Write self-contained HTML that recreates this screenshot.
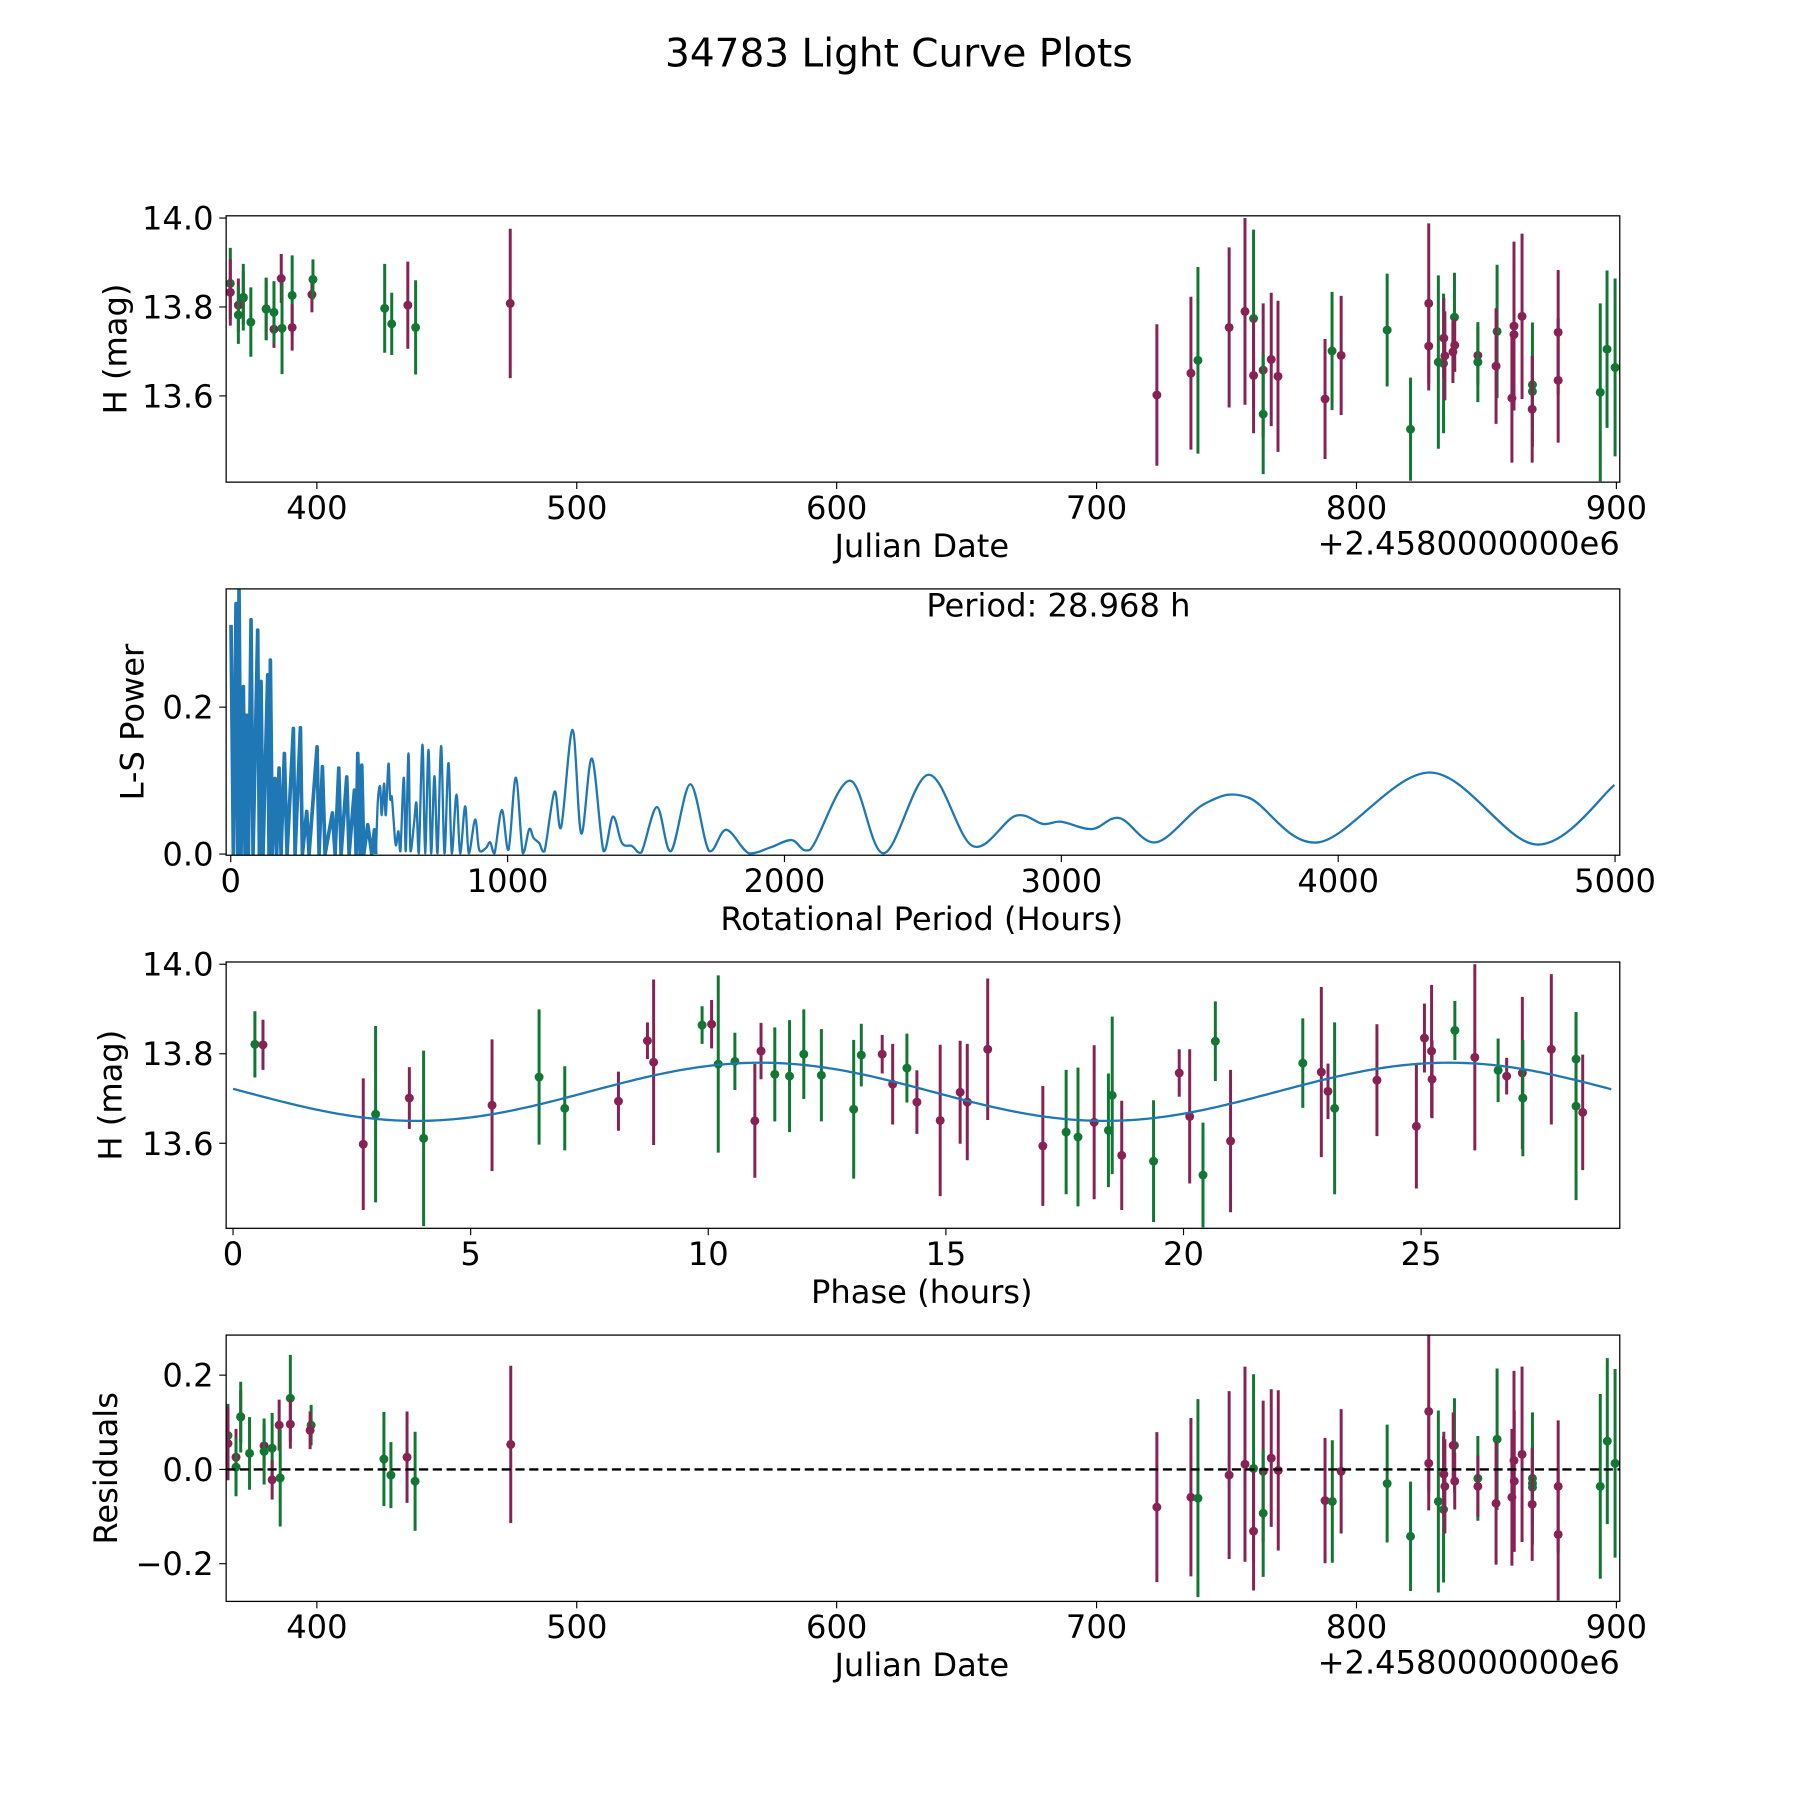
<!DOCTYPE html>
<html><head><meta charset="utf-8"><title>34783 Light Curve Plots</title>
<style>
html,body{margin:0;padding:0;background:#fff;}
svg{display:block;font-family:"DejaVu Sans","Liberation Sans",sans-serif;}
</style></head>
<body>
<svg id="fig" width="1800" height="1800" viewBox="0 0 1568 1568" xmlns="http://www.w3.org/2000/svg">
<rect x="0" y="0" width="1568" height="1568" fill="#fff"/>
<text x="783" y="58" font-size="34" text-anchor="middle">34783 Light Curve Plots</text>
</svg>
<script>
// ---------- Panel 1: light curve ----------
const lcDates = [366.7,366.7,369.8,369.8,371.7,371.7,374.6,380.5,380.5,383.5,383.5,386.3,386.6,390.5,390.5,398.1,398.5,426.1,428.8,435.0,438.0,474.4,
723.2,736.3,739.0,751.0,757.1,760.4,760.4,764.1,764.1,767.2,769.8,787.9,790.6,794.1,811.8,820.8,827.8,827.8,831.5,833.5,833.6,834.0,837.7,837.8,837.1,846.7,846.7,854.1,853.7,860.6,860.6,859.8,863.7,867.7,867.7,867.6,877.6,877.6,893.8,896.4,899.5];
const lcMags = [13.853,13.833,13.804,13.782,13.820,13.822,13.766,13.796,13.795,13.750,13.788,13.864,13.752,13.826,13.754,13.828,13.862,13.797,13.762,13.804,13.754,13.808,
13.602,13.651,13.680,13.754,13.790,13.774,13.646,13.658,13.559,13.682,13.644,13.593,13.701,13.691,13.748,13.525,13.808,13.712,13.676,13.673,13.730,13.690,13.777,13.714,13.699,13.691,13.676,13.745,13.667,13.757,13.738,13.595,13.779,13.625,13.610,13.570,13.743,13.635,13.608,13.705,13.664];
const lcErrs = [0.08,0.075,0.06,0.065,0.06,0.075,0.078,0.07,0.07,0.042,0.07,0.055,0.103,0.09,0.052,0.04,0.045,0.1,0.07,0.098,0.106,0.168,
0.159,0.172,0.21,0.18,0.21,0.2,0.13,0.15,0.135,0.15,0.17,0.135,0.133,0.134,0.127,0.116,0.18,0.1,0.195,0.157,0.09,0.1,0.1,0.06,0.07,0.065,0.09,0.15,0.13,0.19,0.15,0.145,0.186,0.14,0.08,0.12,0.14,0.14,0.2,0.177,0.2];
const lcBands = ["G","M","M","G","M","G","G","M","G","M","G","M","G","G","M","M","G","G","G","M","G","M",
"M","M","G","M","M","G","M","M","G","M","M","M","G","M","G","G","M","M","G","G","M","M","G","M","M","M","G","G","M","M","M","M","M","G","G","M","M","M","G","G","G"];

// ---------- Panel 2: periodogram ----------
const lsPeriods = [1.0,9.4,19.1,25.1,29.9,37.1,45.6,51.6,57.6,63.6,73.3,80.5,97.4,103.4,109.4,116.6,133.5,138.3,143.1,150.4,160.0,166.0,174.5,181.7,193.7,203.4,226.3,232.3,251.6,258.8,274.4,282.9,311.8,319.0,331.1,340.7,367.2,376.9,390.1,398.5,419.0,427.4,446.7,452.7,458.8,467.2,473.2,480.5,494.9,509.4,519.0,523.8,
531.1,539.5,545.5,553.9,560.0,569.6,575.6,581.7,587.7,596.1,605.7,612.9,625.0,632.2,641.9,649.1,662.4,670.8,679.2,692.5,702.1,714.2,723.8,735.8,746.7,759.9,772.0,786.4,798.5,815.4,828.6,846.7,859.9,882.8,897.3,921.4,937.0,952.7,979.2,1003.3,1029.8,1055.1,1078.0,1093.6,1114.1,1133.4,1169.5,1193.6,1234.6,1265.9,1304.5,1346.6,1380.4,1412.9,1449.0,1482.8,1539.4,1590.0,1659.9,1728,1789.8,1871.7,1949.1,2026.5,2092.9,2236.7,2358.4,2519.9,2679.2,2834.1,2933.6,3000.0,3110.6,3210.2,3342.9,3520.0,3674.8,3929.2,4331.9,4714.6,4997.8];
const lsPowers = [0.312,0,0.341,0,0.362,0,0.228,0,0.189,0,0.319,0,0.305,0,0.235,0,0.244,0,0.264,0,0.103,0,0.117,0,0.137,0,0.171,0,0.172,0,0.058,0,0.146,0,0.119,0,0.056,0,0.117,0,0.105,0,0.087,0,0.137,0,0.121,0,0.040,0,0.033,0,
0.071,0.092,0.053,0.096,0.053,0.123,0.076,0.078,0.049,0.012,0.031,0.004,0.104,0.004,0.137,0.004,0.043,0.069,0.001,0.149,0.001,0.142,0.001,0.106,0.001,0.147,0.001,0.124,0.001,0.081,0.001,0.065,0.001,0.047,0.006,0.008,0.016,0.001,0.060,0.006,0.104,0.001,0.034,0.022,0.015,0.004,0.085,0.037,0.169,0.028,0.130,0.004,0.051,0.015,0.011,0.002,0.064,0.004,0.095,0.004,0.033,0.001,0.009,0.019,0.006,0.100,0.001,0.108,0.011,0.052,0.041,0.044,0.034,0.049,0.016,0.069,0.077,0.016,0.111,0.013,0.094];
const bestPeriodLabel = "Period: 28.968 h";

// ---------- Panel 3: phased curve ----------
const phaseHours = [0.46,0.63,2.74,3.0,3.71,4.01,5.45,6.44,6.98,8.11,8.72,8.85,9.87,10.07,10.21,10.56,10.98,11.11,11.4,11.71,12.01,12.38,13.06,13.22,13.66,13.88,14.18,14.39,14.88,
15.30,15.45,15.88,17.04,17.53,17.78,18.12,18.42,18.50,18.70,19.37,19.91,20.13,20.41,20.67,20.99,22.51,22.90,23.04,23.18,24.07,24.90,25.07,25.22,25.23,25.71,26.13,26.62,26.80,27.13,27.14,27.74,28.26,28.26,28.40];
const phaseMags = [13.821,13.820,13.598,13.665,13.701,13.611,13.685,13.748,13.678,13.694,13.829,13.781,13.864,13.866,13.777,13.783,13.650,13.806,13.754,13.750,13.799,13.752,13.676,13.797,13.799,13.732,13.768,13.692,13.651,
13.714,13.692,13.810,13.594,13.625,13.614,13.647,13.629,13.707,13.573,13.560,13.757,13.660,13.529,13.828,13.605,13.779,13.759,13.716,13.678,13.741,13.638,13.835,13.806,13.743,13.852,13.792,13.763,13.750,13.757,13.701,13.810,13.788,13.683,13.669];
const phaseErrs = [0.074,0.056,0.147,0.197,0.069,0.196,0.147,0.151,0.094,0.066,0.041,0.185,0.042,0.054,0.198,0.064,0.127,0.063,0.105,0.125,0.1,0.103,0.155,0.07,0.043,0.09,0.077,0.071,0.169,
0.115,0.13,0.158,0.134,0.139,0.155,0.172,0.127,0.176,0.122,0.136,0.053,0.15,0.117,0.089,0.159,0.1,0.19,0.062,0.192,0.125,0.139,0.077,0.148,0.087,0.066,0.208,0.071,0.041,0.17,0.13,0.168,0.105,0.21,0.129];
const phaseBands = ["G","M","M","G","M","G","M","G","G","M","M","M","G","M","G","G","M","M","G","G","G","G","G","G","M","M","G","M","M",
"M","M","M","M","G","G","M","G","G","M","G","M","M","G","G","M","G","M","M","G","M","M","M","M","M","G","M","G","M","M","G","M","G","G","M"];
const fitMean = [13.715];
const fitAmp = [0.065];
const fitPeakPhase = [11.1];
const fitHalfPeriod = [14.484];

// ---------- Panel 4: residuals ----------
const resDates = [365.8,365.8,368.9,368.9,370.7,370.7,374.1,379.7,379.7,382.8,382.8,385.5,385.9,389.8,389.8,397.8,397.4,425.8,428.5,434.7,437.8,474.6,
723.2,736.3,739.0,751.0,757.1,760.4,760.4,764.1,764.1,767.2,769.9,787.9,790.7,794.1,811.8,820.8,827.8,827.8,831.5,833.5,833.6,834.0,837.7,837.2,837.8,846.7,846.7,854.1,853.7,860.6,860.7,859.8,863.7,867.7,867.7,867.7,867.6,877.6,877.6,893.8,896.5,899.5];
const resValues = [0.072,0.055,0.026,0.005,0.112,0.111,0.034,0.05,0.038,0.045,-0.022,0.094,-0.018,0.151,0.096,0.094,0.083,0.022,-0.012,0.026,-0.025,0.053,
-0.08,-0.059,-0.061,-0.012,0.011,0.002,-0.131,-0.004,-0.093,0.024,-0.002,-0.066,-0.068,-0.004,-0.03,-0.142,0.123,0.013,-0.068,-0.085,-0.01,-0.036,0.051,0.051,-0.025,-0.019,-0.036,0.064,-0.072,0.019,-0.025,-0.059,0.032,-0.019,-0.03,-0.038,-0.074,-0.036,-0.138,-0.036,0.06,0.013];
const resErrs = [0.067,0.078,0.06,0.062,0.055,0.075,0.077,0.045,0.07,0.075,0.042,0.054,0.103,0.092,0.052,0.043,0.04,0.1,0.07,0.097,0.105,0.167,
0.159,0.168,0.21,0.178,0.207,0.2,0.126,0.15,0.135,0.146,0.17,0.133,0.13,0.132,0.125,0.116,0.17,0.1,0.193,0.155,0.09,0.1,0.1,0.07,0.06,0.09,0.065,0.15,0.13,0.19,0.15,0.145,0.186,0.14,0.08,0.08,0.12,0.14,0.14,0.196,0.176,0.2];
const resBands = ["G","M","M","G","M","G","G","M","G","G","M","M","G","G","M","G","M","G","G","M","G","M",
"M","M","G","M","M","G","M","M","G","M","M","M","G","M","G","G","M","M","G","G","M","M","G","M","M","G","M","G","M","M","M","M","M","G","G","G","M","M","M","G","G","G"];

const jdTicks = [400,500,600,700,800,900];
const periodTicks = [0,1000,2000,3000,4000,5000];
const phaseTicks = [0,5,10,15,20,25];
const magTicks = [13.6,13.8,14.0];
const powerTicks = [0.0,0.2];
const resTicks = [-0.2,0.0,0.2];

const NS = "http://www.w3.org/2000/svg";
const svg = document.getElementById("fig");
const COLORS = {M:"#882255", G:"#117733"};
const FS = 28;

function mk(tag, attrs, parent){
  const e = document.createElementNS(NS, tag);
  for (const k in attrs) e.setAttribute(k, attrs[k]);
  (parent || svg).appendChild(e);
  return e;
}
function lin(d0,d1,r0,r1){ return v => r0 + (v-d0)*(r1-r0)/(d1-d0); }
function fmtTick(v, dec){
  const s = Math.abs(v).toFixed(dec);
  return (v < -1e-9 ? "\u2212" : "") + s;
}

function makePanel(name, top, bottom, xd, yd){
  const g = mk("g", {});
  
  
  return {g, sx: lin(xd[0],xd[1],197,1411), sy: lin(yd[0],yd[1],bottom,top), top, bottom};
}
function drawFrame(P){
  const r = mk("rect", {x:197, y:P.top, width:1214, height:P.bottom-P.top, fill:"none", stroke:"#000", "stroke-width":1.1}, P.g);
  
  
}
function xAxis(P, ticks, dec, label, offset){
  ticks.forEach(t => {
    const x = P.sx(t);
    mk("line", {x1:x, x2:x, y1:P.bottom, y2:P.bottom+6, stroke:"#000", "stroke-width":1}, P.g);
    const tx = mk("text", {x:x, y:P.bottom+32, "font-size":FS, "text-anchor":"middle"}, P.g);
    tx.textContent = fmtTick(t, dec);
    
    
  });
  const l = mk("text", {x:803, y:P.bottom+65, "font-size":FS, "text-anchor":"middle"}, P.g);
  l.textContent = label;
  
  
  if (offset){
    const o = mk("text", {x:1411, y:P.bottom+63, "font-size":FS, "text-anchor":"end"}, P.g);
    o.textContent = offset;
    
    
  }
}
function yAxis(P, ticks, dec, label, lx){
  ticks.forEach(t => {
    const y = P.sy(t);
    mk("line", {x1:191, x2:197, y1:y, y2:y, stroke:"#000", "stroke-width":1}, P.g);
    const tx = mk("text", {x:186, y:y+10, "font-size":FS, "text-anchor":"end"}, P.g);
    tx.textContent = fmtTick(t, dec);
    
    
  });
  const cy = (P.top+P.bottom)/2;
  const l = mk("text", {x:lx, y:cy, "font-size":FS, "text-anchor":"middle", transform:`rotate(-90 ${lx} ${cy})`}, P.g);
  l.textContent = label;
  
  
}
function errPoints(P, xs, ys, es, bands, clipId){
  const cg = mk("g", {"clip-path":`url(#${clipId})`}, P.g);
  for (let i=0;i<xs.length;i++){
    const c = COLORS[bands[i]];
    const x = P.sx(xs[i]);
    const bar = mk("line", {x1:x, x2:x, y1:P.sy(ys[i]-es[i]), y2:P.sy(ys[i]+es[i]), stroke:c, "stroke-width":2.6}, cg);
    
    
    const pt = mk("circle", {cx:x, cy:P.sy(ys[i]), r:3.9, fill:c}, cg);
    
    
  }
}
const defs = mk("defs", {});
function clip(id, P){
  const cp = mk("clipPath", {id:id}, defs);
  mk("rect", {x:197, y:P.top, width:1214, height:P.bottom-P.top}, cp);
}

// Panel 1
const P1 = makePanel("light-curve-panel", 188, 420, [365.1, 901.3], [13.406, 14.005]);
clip("c1", P1);
errPoints(P1, lcDates, lcMags, lcErrs, lcBands, "c1");
drawFrame(P1);
xAxis(P1, jdTicks, 0, "Julian Date", "+2.4580000000e6");
yAxis(P1, magTicks, 1, "H (mag)", 110);

// Panel 2
const P2 = makePanel("periodogram-panel", 513, 745, [-16.6, 5017], [-0.0016, 0.361]);
clip("c2", P2);
{
  const xs = lsPeriods.map(P2.sx), ys = lsPowers.map(P2.sy);
  const split = lsPeriods.findIndex(p => p > 525);
  let d1 = `M${xs[0]},${ys[0]}`;
  for (let i=1;i<split;i++) d1 += ` L${xs[i]},${ys[i]}`;
  const dense = mk("path", {d:d1, fill:"none", stroke:"#1f77b4", "stroke-width":3.2, "stroke-linejoin":"round", "clip-path":"url(#c2)"}, P2.g);
  
  
  let d = `M${xs[split-1]},${ys[split-1]}`;
  for (let i=split; i<xs.length; i++){
    const p0 = Math.max(i-2,0), p1=i-1, p2=i, p3=Math.min(i+1,xs.length-1);
    const c1x = xs[p1] + (xs[p2]-xs[p0])/6, c1y = ys[p1] + (ys[p2]-ys[p0])/6;
    const c2x = xs[p2] - (xs[p3]-xs[p1])/6, c2y = ys[p2] - (ys[p3]-ys[p1])/6;
    d += ` C${c1x},${Math.min(c1y,P2.sy(0))} ${c2x},${Math.min(c2y,P2.sy(0))} ${xs[p2]},${ys[p2]}`;
  }
  const path = mk("path", {d:d, fill:"none", stroke:"#1f77b4", "stroke-width":2, "stroke-linejoin":"round", "clip-path":"url(#c2)"}, P2.g);
  
  
}
drawFrame(P2);
xAxis(P2, periodTicks, 0, "Rotational Period (Hours)");
yAxis(P2, powerTicks, 1, "L-S Power", 125);
{
  const t = mk("text", {x:922, y:537, "font-size":FS, "text-anchor":"middle"}, P2.g);
  t.textContent = bestPeriodLabel;
  
  
}

// Panel 3
const P3 = makePanel("phase-panel", 838, 1070, [-0.145, 29.18], [13.41, 14.005]);
clip("c3", P3);
errPoints(P3, phaseHours, phaseMags, phaseErrs, phaseBands, "c3");
{
  let d = "";
  for (let i=0;i<=400;i++){
    const t = i*29.0/400;
    const m = fitMean[0] + fitAmp[0]*Math.cos(2*Math.PI*(t-fitPeakPhase[0])/fitHalfPeriod[0]);
    d += (i?" L":"M") + P3.sx(t) + "," + P3.sy(m);
  }
  const fit = mk("path", {d:d, fill:"none", stroke:"#1f77b4", "stroke-width":2}, P3.g);
  
  
}
drawFrame(P3);
xAxis(P3, phaseTicks, 0, "Phase (hours)");
yAxis(P3, magTicks, 1, "H (mag)", 106);

// Panel 4
const P4 = makePanel("residuals-panel", 1163, 1395, [365.1, 901.3], [-0.28, 0.285]);
clip("c4", P4);
errPoints(P4, resDates, resValues, resErrs, resBands, "c4");
{
  const z = mk("line", {x1:197, x2:1411, y1:P4.sy(0), y2:P4.sy(0), stroke:"#000", "stroke-width":2, "stroke-dasharray":"8,4"}, P4.g);
  
  
}
drawFrame(P4);
xAxis(P4, jdTicks, 0, "Julian Date", "+2.4580000000e6");
yAxis(P4, resTicks, 1, "Residuals", 102);
</script>
</body></html>
